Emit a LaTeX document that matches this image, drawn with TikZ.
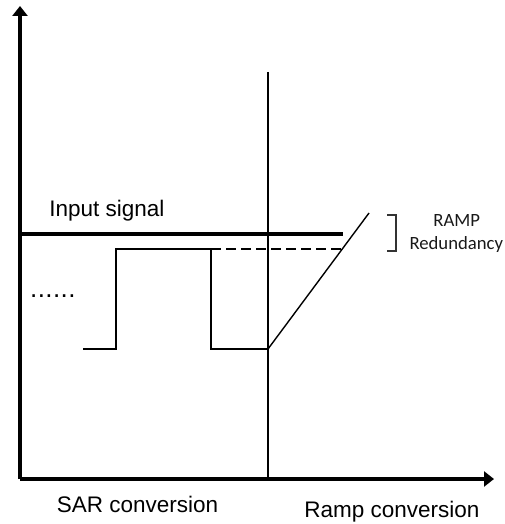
\documentclass[tikz,border=0pt]{standalone}
\usepackage{fontspec}
\setmainfont{Liberation Sans}
\newfontfamily\calfont{Carlito}
\usetikzlibrary{arrows.meta}
\begin{document}
\begin{tikzpicture}[x=1pt,y=-1pt,
  axis/.style={line width=3.6pt,-{Triangle[length=10pt,width=15pt]}},
  thickline/.style={line width=3.6pt},
  midline/.style={line width=2.4pt},
  thinline/.style={line width=1.4pt},
  dashline/.style={line width=1.4pt,dash pattern=on 10pt off 5pt},
  lbl/.style={inner sep=0pt,font=\fontsize{22.5pt}{26pt}\selectfont},
  smalllbl/.style={inner sep=0pt,font=\calfont\fontsize{18.7pt}{22pt}\selectfont,text=black!90}]
\useasboundingbox (0,0) rectangle (505,524);
% coordinates
\coordinate (O) at (20,479);
\coordinate (ytip) at (20,6);
\coordinate (xtip) at (494,479);
\coordinate (vtop) at (268,72);
\coordinate (vbot) at (268,479);
\coordinate (inL) at (20,234);
\coordinate (inR) at (343,234);
\coordinate (s0) at (83,349);
\coordinate (s1) at (116,349);
\coordinate (s2) at (116,249);
\coordinate (s3) at (211,249);
\coordinate (s4) at (211,349);
\coordinate (s5) at (268,349);
\coordinate (rampend) at (369,213);
\coordinate (dashend) at (343,249);
\coordinate (b0) at (387,215);
\coordinate (b1) at (396,215);
\coordinate (b2) at (396,251);
\coordinate (b3) at (387,251);
% axes
\draw[axis] (O) -- (ytip);
\draw[axis] (O) -- (xtip);
% vertical divider
\draw[midline] (vtop) -- (vbot);
% input signal
\draw[thickline] (inL) -- (inR);
% SAR steps
\draw[thinline] (s0) -- (s1) -- (s2) -- (s3) -- (s4) -- (s5);
\draw[dashline] (s3) -- (dashend);
% ramp
\draw[thinline] (s5) -- (rampend);
% bracket
\draw[thinline,black!80] (b0) -- (b1) -- (b2) -- (b3);
% labels
\node[lbl,anchor=base] (input) at (106.8,216.5) {Input signal};
\node[lbl,anchor=base] (sar) at (137.5,512.5) {SAR conversion};
\node[lbl,anchor=base] (rampc) at (392,517) {Ramp conversion};
\node[inner sep=0pt,anchor=base west,font=\fontsize{26pt}{30pt}\selectfont] (dots) at (30,297) {\addfontfeatures{LetterSpace=1.5}......};
\node[smalllbl,anchor=base] (ramp) at (456.7,226.5) {RAMP};
\node[smalllbl,anchor=base] (redund) at (456.3,249) {Redundancy};
\end{tikzpicture}
\end{document}
